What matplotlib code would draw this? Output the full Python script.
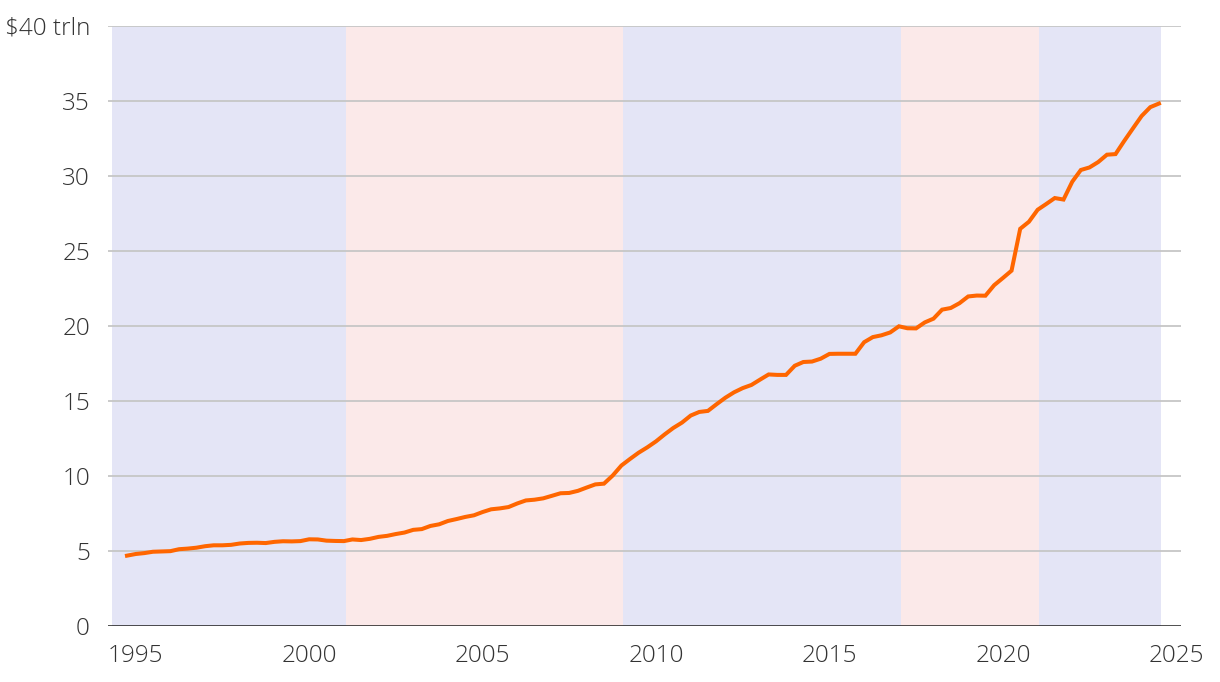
import pandas as pd
import matplotlib
matplotlib.use("Agg")
from matplotlib import pyplot as plt

# US federal debt, trillions of dollars, quarter ends from Sep 1994 to Jun 2024
debt = [4.69, 4.80,
        4.86, 4.95, 4.97, 4.99,
        5.12, 5.16, 5.22, 5.32,
        5.38, 5.38, 5.41, 5.50,
        5.54, 5.55, 5.53, 5.61,
        5.65, 5.64, 5.66, 5.78,
        5.77, 5.69, 5.67, 5.66,
        5.77, 5.73, 5.81, 5.94,
        6.01, 6.13, 6.23, 6.41,
        6.46, 6.67, 6.78, 7.00,
        7.13, 7.27, 7.38, 7.60,
        7.78, 7.84, 7.93, 8.17,
        8.37, 8.42, 8.51, 8.68,
        8.85, 8.87, 9.01, 9.23,
        9.44, 9.49, 10.03, 10.70,
        11.13, 11.55, 11.91, 12.31,
        12.77, 13.20, 13.56, 14.03,
        14.27, 14.34, 14.79, 15.22,
        15.58, 15.86, 16.07, 16.43,
        16.77, 16.74, 16.74, 17.35,
        17.60, 17.63, 17.82, 18.14,
        18.15, 18.15, 18.15, 18.92,
        19.26, 19.38, 19.57, 19.98,
        19.85, 19.84, 20.24, 20.49,
        21.09, 21.20, 21.52, 21.97,
        22.03, 22.02, 22.72, 23.20,
        23.69, 26.48, 26.95, 27.75,
        28.13, 28.53, 28.43, 29.62,
        30.40, 30.57, 30.93, 31.42,
        31.46, 32.33, 33.17, 34.00,
        34.59, 34.83]

dates = pd.date_range("1994-09-30", periods=len(debt), freq="QE")
years = dates.year + dates.dayofyear / 365.25

# presidential terms (start, end, party)
term_start = [1994.31, 2001.05, 2009.05, 2017.05, 2021.05]
term_end = [2001.05, 2009.05, 2017.05, 2021.05, 2024.56]
term_party = ["D", "R", "D", "R", "D"]

yticks = [0, 5, 10, 15, 20, 25, 30, 35, 40]
ytick_labels = ["0", "5", "10", "15", "20", "25", "30", "35", "$40 trln"]
xticks = [1995, 2000, 2005, 2010, 2015, 2020, 2025]

plt.rcParams["font.family"] = ["Open Sans", "DejaVu Sans"]
plt.rcParams["font.weight"] = "light"

fig = plt.figure(figsize=(12.2, 6.82), dpi=100)
ax = fig.add_axes([108 / 1220, 56 / 682, (1180.5 - 108) / 1220, 600 / 682])

band_colors = {"D": "#e4e5f6", "R": "#fbe9e9"}
for s, e, p in zip(term_start, term_end, term_party):
    ax.axvspan(s, e, color=band_colors[p], lw=0, zorder=0)

for y in yticks[1:]:
    ax.axhline(y, color="#c6c6c6", lw=1.3, zorder=1)
ax.axhline(0, color="#1a1a1a", lw=1.8, zorder=3)

ax.plot(years, debt, color="#ff6600", lw=2.9, solid_joinstyle="miter", zorder=4)

ax.set_xlim(1994.2, 2025.12)
ax.set_ylim(0, 40)
ax.set_yticks(yticks)
ax.set_yticklabels(ytick_labels)
ax.set_xticks(xticks)
ax.set_xticklabels([str(x) for x in xticks])
ax.tick_params(axis="both", length=0, labelsize=17.5, labelcolor="#333333")
ax.tick_params(axis="y", pad=13)
ax.tick_params(axis="x", pad=13)
for sp in ax.spines.values():
    sp.set_visible(False)

fig.savefig("out.png", dpi=100)
